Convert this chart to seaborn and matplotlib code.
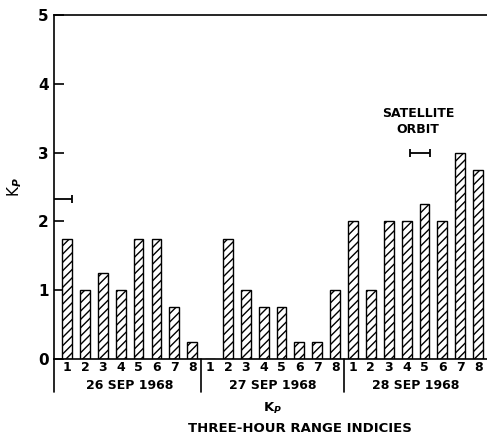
import pandas as pd
import seaborn as sns
from matplotlib import pyplot as plt
from matplotlib import transforms

days = ["26 SEP 1968", "27 SEP 1968", "28 SEP 1968"]
periods = ["1", "2", "3", "4", "5", "6", "7", "8"]
kp_26 = [1.75, 1.0, 1.25, 1.0, 1.75, 1.75, 0.75, 0.25]
kp_27 = [0.0, 1.75, 1.0, 0.75, 0.75, 0.25, 0.25, 1.0]
kp_28 = [2.0, 1.0, 2.0, 2.0, 2.25, 2.0, 3.0, 2.75]
orbit_x = [-0.3, 19.75]
orbit_halfwidth = [0.6, 0.55]
orbit_kp = [2.33, 3.0]

rows = []
for day, vals in zip(days, [kp_26, kp_27, kp_28]):
    for p, v in zip(periods, vals):
        rows.append({"slot": f"{day} {p}", "period": p, "day": day, "kp": v})
df = pd.DataFrame(rows)

sns.set_style("ticks")
plt.rcParams["font.family"] = ["DejaVu Sans"]
plt.rcParams["font.weight"] = "bold"
plt.rcParams["text.color"] = "black"
plt.rcParams["axes.labelcolor"] = "black"
plt.rcParams["xtick.color"] = "black"
plt.rcParams["ytick.color"] = "black"
plt.rcParams["axes.edgecolor"] = "black"

fig = plt.figure(figsize=(4.87, 4.42), dpi=100)
ax = fig.add_axes([0.111, 0.188, 0.889, 0.778])

sns.barplot(data=df, x="slot", y="kp", color="white", edgecolor="black",
            linewidth=1.0, width=0.55, saturation=1, ax=ax)
for bar in ax.patches:
    bar.set_hatch("////")
    bar.set_facecolor("white")

ax.set_xlim(-0.73, 23.5)
ax.set_ylim(0, 5)
ax.set_yticks(range(6))
ax.set_yticklabels([str(i) for i in range(6)], fontsize=11, fontweight="bold")
ax.tick_params(axis="y", direction="in", length=7, width=1.2, pad=4)
ax.set_xticks(range(24))
ax.set_xticklabels(df["period"], fontsize=9)
ax.tick_params(axis="x", length=0, pad=1.5)
ax.spines["right"].set_visible(False)
for s in ["left", "top", "bottom"]:
    ax.spines[s].set_linewidth(1.2)
ax.set_xlabel("")
ax.set_ylabel("K$_P$", fontsize=11, labelpad=10)

# day separators and extension of the left axis below zero
trans = transforms.blended_transform_factory(ax.transData, ax.transAxes)
for xs in [-0.73, 7.5, 15.5]:
    ax.plot([xs, xs], [0, -0.096], color="black", lw=1.2, transform=trans,
            clip_on=False)
for i, day in enumerate(days):
    ax.text(i * 8 + 3.5, -0.078, day, transform=trans, ha="center", va="center",
            fontsize=9)

# satellite orbit markers
ax.errorbar(orbit_x, orbit_kp, xerr=orbit_halfwidth, fmt="none", ecolor="black",
            elinewidth=1.3, capsize=3, capthick=1.3)
ax.text(19.65, 3.45, "SATELLITE\nORBIT", ha="center", va="center",
        fontsize=9, linespacing=1.3)

fig.text(0.56, 0.077, "K$_P$", ha="center", va="center", fontsize=9.5)
fig.text(0.615, 0.03, "THREE-HOUR RANGE INDICIES", ha="center", va="center",
         fontsize=9.5)

fig.savefig("out.png", dpi=100)
